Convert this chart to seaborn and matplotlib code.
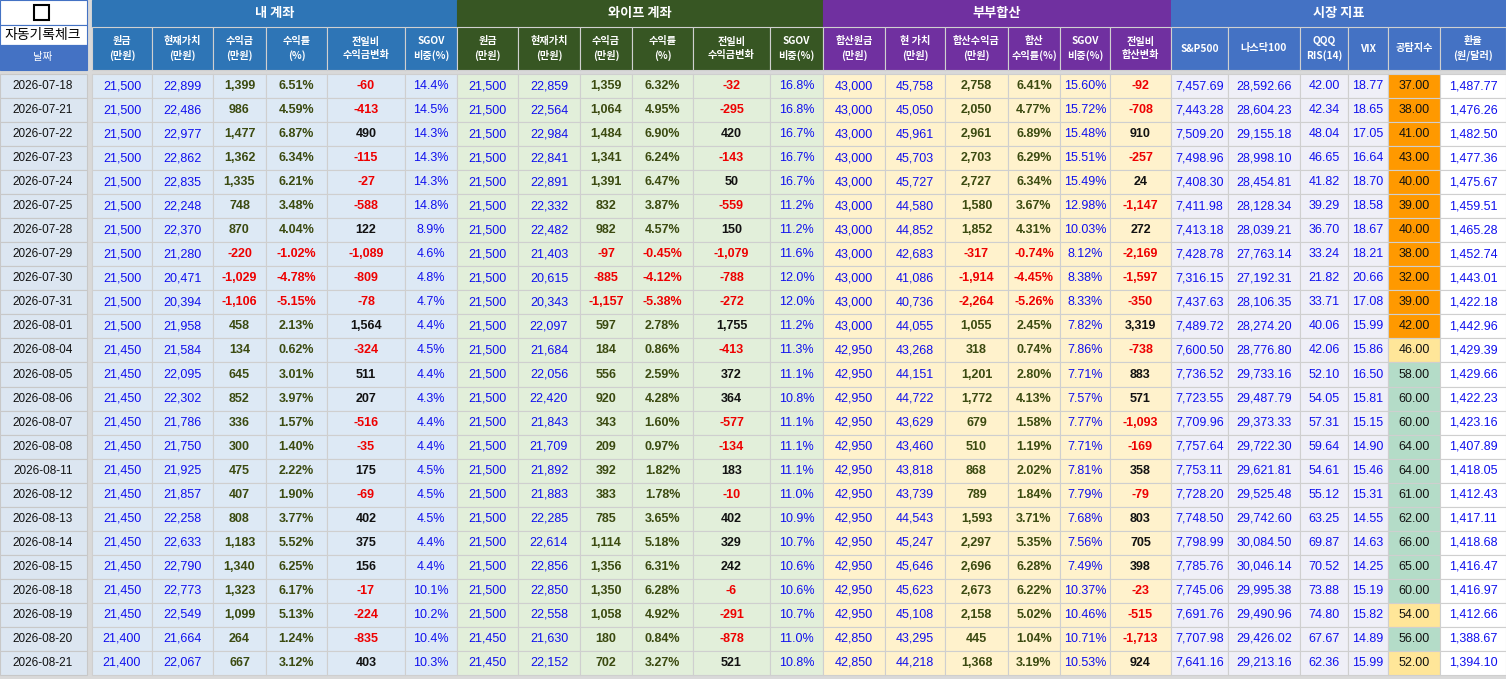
import matplotlib
matplotlib.use("Agg")
import matplotlib.pyplot as plt
from matplotlib.patches import Rectangle
import seaborn as sns

sns.set_theme(style="white")
plt.rcParams['font.family'] = ['Noto Sans CJK KR', 'DejaVu Sans']
NUMF = ['Liberation Sans', 'Noto Sans CJK KR']

dates = ["2026-07-18","2026-07-21","2026-07-22","2026-07-23","2026-07-24","2026-07-25","2026-07-28","2026-07-29","2026-07-30","2026-07-31","2026-08-01","2026-08-04","2026-08-05","2026-08-06","2026-08-07","2026-08-08","2026-08-11","2026-08-12","2026-08-13","2026-08-14","2026-08-15","2026-08-18","2026-08-19","2026-08-20","2026-08-21"]
my_principal = [21500]*11 + [21450]*12 + [21400]*2
my_current = [22899,22486,22977,22862,22835,22248,22370,21280,20471,20394,21958,21584,22095,22302,21786,21750,21925,21857,22258,22633,22790,22773,22549,21664,22067]
my_profit = [1399,986,1477,1362,1335,748,870,-220,-1029,-1106,458,134,645,852,336,300,475,407,808,1183,1340,1323,1099,264,667]
my_rate = [6.51,4.59,6.87,6.34,6.21,3.48,4.04,-1.02,-4.78,-5.15,2.13,0.62,3.01,3.97,1.57,1.40,2.22,1.90,3.77,5.52,6.25,6.17,5.13,1.24,3.12]
my_change = [-60,-413,490,-115,-27,-588,122,-1089,-809,-78,1564,-324,511,207,-516,-35,175,-69,402,375,156,-17,-224,-835,403]
my_sgov = [14.4,14.5,14.3,14.3,14.3,14.8,8.9,4.6,4.8,4.7,4.4,4.5,4.4,4.3,4.4,4.4,4.5,4.5,4.5,4.4,4.4,10.1,10.2,10.4,10.3]
wf_principal = [21500]*23 + [21450]*2
wf_current = [22859,22564,22984,22841,22891,22332,22482,21403,20615,20343,22097,21684,22056,22420,21843,21709,21892,21883,22285,22614,22856,22850,22558,21630,22152]
wf_profit = [1359,1064,1484,1341,1391,832,982,-97,-885,-1157,597,184,556,920,343,209,392,383,785,1114,1356,1350,1058,180,702]
wf_rate = [6.32,4.95,6.90,6.24,6.47,3.87,4.57,-0.45,-4.12,-5.38,2.78,0.86,2.59,4.28,1.60,0.97,1.82,1.78,3.65,5.18,6.31,6.28,4.92,0.84,3.27]
wf_change = [-32,-295,420,-143,50,-559,150,-1079,-788,-272,1755,-413,372,364,-577,-134,183,-10,402,329,242,-6,-291,-878,521]
wf_sgov = [16.8,16.8,16.7,16.7,16.7,11.2,11.2,11.6,12.0,12.0,11.2,11.3,11.1,10.8,11.1,11.1,11.1,11.0,10.9,10.7,10.6,10.6,10.7,11.0,10.8]
cp_principal = [43000]*11 + [42950]*12 + [42850]*2
cp_current = [45758,45050,45961,45703,45727,44580,44852,42683,41086,40736,44055,43268,44151,44722,43629,43460,43818,43739,44543,45247,45646,45623,45108,43295,44218]
cp_profit = [2758,2050,2961,2703,2727,1580,1852,-317,-1914,-2264,1055,318,1201,1772,679,510,868,789,1593,2297,2696,2673,2158,445,1368]
cp_rate = [6.41,4.77,6.89,6.29,6.34,3.67,4.31,-0.74,-4.45,-5.26,2.45,0.74,2.80,4.13,1.58,1.19,2.02,1.84,3.71,5.35,6.28,6.22,5.02,1.04,3.19]
cp_sgov = [15.60,15.72,15.48,15.51,15.49,12.98,10.03,8.12,8.38,8.33,7.82,7.86,7.71,7.57,7.77,7.71,7.81,7.79,7.68,7.56,7.49,10.37,10.46,10.71,10.53]
cp_change = [-92,-708,910,-257,24,-1147,272,-2169,-1597,-350,3319,-738,883,571,-1093,-169,358,-79,803,705,398,-23,-515,-1713,924]
sp500 = [7457.69,7443.28,7509.20,7498.96,7408.30,7411.98,7413.18,7428.78,7316.15,7437.63,7489.72,7600.50,7736.52,7723.55,7709.96,7757.64,7753.11,7728.20,7748.50,7798.99,7785.76,7745.06,7691.76,7707.98,7641.16]
ndx = [28592.66,28604.23,29155.18,28998.10,28454.81,28128.34,28039.21,27763.14,27192.31,28106.35,28274.20,28776.80,29733.16,29487.79,29373.33,29722.30,29621.81,29525.48,29742.60,30084.50,30046.14,29995.38,29490.96,29426.02,29213.16]
rsi = [42.00,42.34,48.04,46.65,41.82,39.29,36.70,33.24,21.82,33.71,40.06,42.06,52.10,54.05,57.31,59.64,54.61,55.12,63.25,69.87,70.52,73.88,74.80,67.67,62.36]
vix = [18.77,18.65,17.05,16.64,18.70,18.58,18.67,18.21,20.66,17.08,15.99,15.86,16.50,15.81,15.15,14.90,15.46,15.31,14.55,14.63,14.25,15.19,15.82,14.89,15.99]
greed = [37,38,41,43,40,39,40,38,32,39,42,46,58,60,60,64,64,61,62,66,65,60,54,56,52]
fx = [1487.77,1476.26,1482.50,1477.36,1475.67,1459.51,1465.28,1452.74,1443.01,1422.18,1442.96,1429.39,1429.66,1422.23,1423.16,1407.89,1418.05,1412.43,1417.11,1418.68,1416.47,1416.97,1412.66,1388.67,1394.10]

groups = ["내 계좌", "와이프 계좌", "부부합산", "시장 지표"]
sub_acc = ["원금\n(만원)", "현재가치\n(만원)", "수익금\n(만원)", "수익률\n(%)", "전일비\n수익금변화", "SGOV\n비중(%)"]
sub_cp = ["합산원금\n(만원)", "현 가치\n(만원)", "합산수익금\n(만원)", "합산\n수익률(%)", "SGOV\n비중(%)", "전일비\n합산변화"]
sub_mk = ["S&P500", "나스닥100", "QQQ\nRIS(14)", "VIX", "공탐지수", "환율\n(원/달러)"]

W, H = 1506, 679
fig = plt.figure(figsize=(W/100, H/100), dpi=100)
ax = fig.add_axes([0, 0, 1, 1])
ax.set_xlim(0, W); ax.set_ylim(H, 0); ax.axis("off")

edges = [92,152,213,266,327,405,457, 518,580,632,693,770,823, 885,945,1008,1060,1110,1171, 1228,1300,1348,1388,1440,1506]
row_top, pitch = 74, 24.04

def cell(x0, x1, y0, y1, fc, ec="#c8c8c8"):
    ax.add_patch(Rectangle((x0, y0), x1-x0, y1-y0, facecolor=fc, edgecolor=ec, lw=0.8))

ax.add_patch(Rectangle((0, 0), W, H, facecolor="#d9d9d9", edgecolor="none"))
gcol = ["#2e75b6", "#375623", "#7030a0", "#4472c4"]
bodyc = ["#dde9f5", "#e2efda", "#fff2cc", "#efeff7"]
for g in range(4):
    x0, x1 = edges[g*6], edges[g*6+6]
    cell(x0, x1, 0, 27, gcol[g], gcol[g])
    ax.text((x0+x1)/2, 13, groups[g], color="white", fontsize=9.5, fontweight="bold", ha="center", va="center")
    subs = sub_acc if g < 2 else (sub_cp if g == 2 else sub_mk)
    for k in range(6):
        a, b = edges[g*6+k], edges[g*6+k+1]
        cell(a, b, 27, 70, gcol[g], "#d0d0d0")
        ax.text((a+b)/2, 48.5, subs[k], color="white", fontsize=7.3, fontweight="bold",
                ha="center", va="center", linespacing=1.4)

cell(0, 87, 0, 25, "white", "#4472c4")
ax.add_patch(Rectangle((34, 5), 15, 15, facecolor="white", edgecolor="black", lw=1.5))
cell(0, 87, 25, 45, "white", "#4472c4")
ax.text(43, 35, "자동기록체크", fontsize=10, ha="center", va="center", color="black")
cell(0, 87, 45, 70, "#4472c4", "#4472c4")
ax.text(43, 57, "날짜", fontsize=7.5, color="white", ha="center", va="center")

BLUE, OLIVE, RED, BLK = "#1010ee", "#3b4a10", "#ee0000", "#111111"
def fint(v): return f"{v:,}"
def fpct(v, d=2): return f"{v:.{d}f}%"
def pl(v): return RED if v < 0 else OLIVE
def ch(v): return RED if v < 0 else BLK

for i, d in enumerate(dates):
    y0 = row_top + i*pitch; y1 = y0 + pitch; yc = (y0+y1)/2
    cell(0, 87, y0, y1, "#dce6f1")
    ax.text(43, yc, d, fontsize=8.5, ha="center", va="center", color=BLK, family=NUMF)
    acc = [
        [(fint(my_principal[i]), BLUE, False), (fint(my_current[i]), BLUE, False), (fint(my_profit[i]), pl(my_profit[i]), True),
         (fpct(my_rate[i]), pl(my_rate[i]), True), (fint(my_change[i]), ch(my_change[i]), True), (fpct(my_sgov[i], 1), BLUE, False)],
        [(fint(wf_principal[i]), BLUE, False), (fint(wf_current[i]), BLUE, False), (fint(wf_profit[i]), pl(wf_profit[i]), True),
         (fpct(wf_rate[i]), pl(wf_rate[i]), True), (fint(wf_change[i]), ch(wf_change[i]), True), (fpct(wf_sgov[i], 1), BLUE, False)],
        [(fint(cp_principal[i]), BLUE, False), (fint(cp_current[i]), BLUE, False), (fint(cp_profit[i]), pl(cp_profit[i]), True),
         (fpct(cp_rate[i]), pl(cp_rate[i]), True), (fpct(cp_sgov[i]), BLUE, False), (fint(cp_change[i]), ch(cp_change[i]), True)],
        [(f"{sp500[i]:,.2f}", BLUE, False), (f"{ndx[i]:,.2f}", BLUE, False), (f"{rsi[i]:.2f}", BLUE, False),
         (f"{vix[i]:.2f}", BLUE, False), (f"{greed[i]:.2f}", BLK, False), (f"{fx[i]:,.2f}", BLUE, False)],
    ]
    for g in range(4):
        for k in range(6):
            a, b = edges[g*6+k], edges[g*6+k+1]
            fc = bodyc[g]
            if g == 3 and k == 4:
                fc = "#ff9900" if greed[i] < 46 else ("#ffe699" if greed[i] < 56 else "#b4dcc8")
            if g == 3 and k == 5:
                fc = "white"
            cell(a, b, y0, y1, fc, "#cfcfcf")
            txt, col, bold = acc[g][k]
            ax.text((a+b)/2, yc, txt, fontsize=9, ha="center", va="center", color=col,
                    fontweight="bold" if bold else "normal", family=NUMF)

fig.savefig("out.png", dpi=100)
